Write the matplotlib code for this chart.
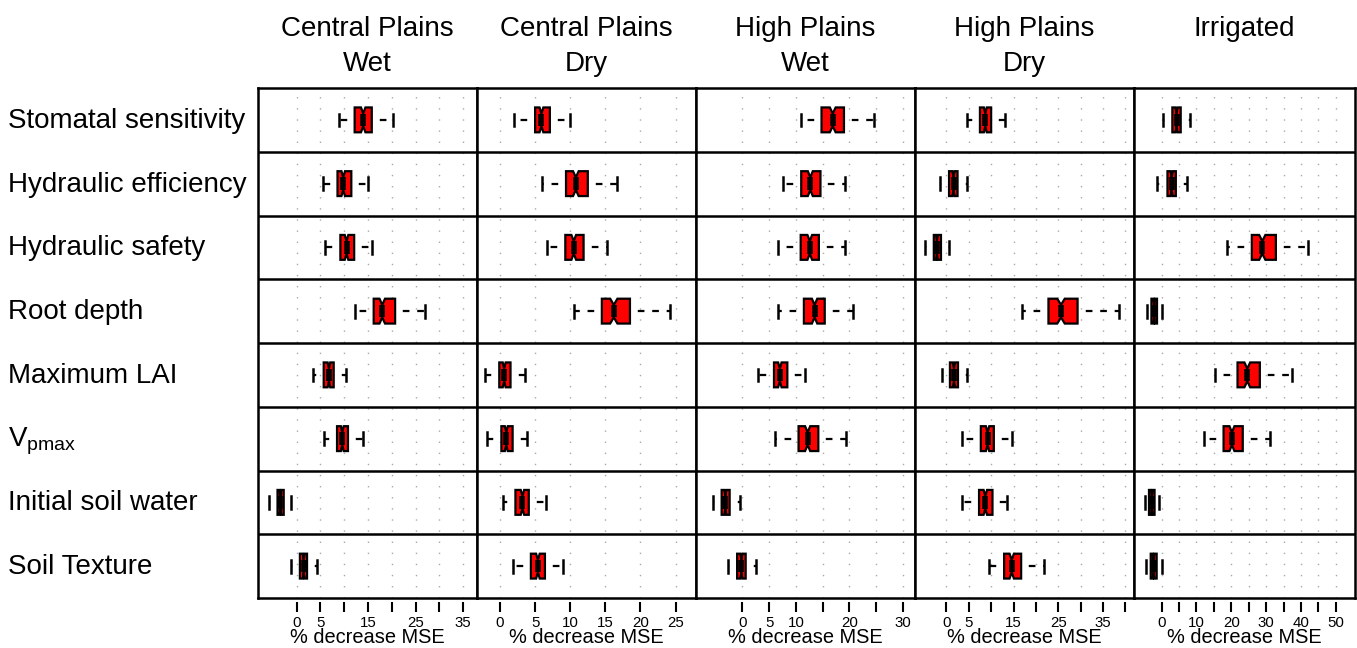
import matplotlib
matplotlib.use('Agg')
import matplotlib.pyplot as plt
import numpy as np

plt.rcParams['font.family'] = ['Liberation Sans', 'DejaVu Sans']

# ---------------- data ----------------
variables = ["Stomatal sensitivity", "Hydraulic efficiency", "Hydraulic safety",
             "Root depth", "Maximum LAI", r"$\mathregular{V_{pmax}}$",
             "Initial soil water", "Soil Texture"]

panel_titles = [("Central Plains", "Wet"), ("Central Plains", "Dry"),
                ("High Plains", "Wet"), ("High Plains", "Dry"), ("Irrigated", "")]

cp_wet_lo  = [8.9, 5.6, 5.9, 12.2, 3.5, 5.7, -5.8, -1.2]
cp_wet_q1  = [12.2, 8.6, 9.2, 16.2, 5.7, 8.5, -4.0, 0.7]
cp_wet_med = [14.0, 9.8, 10.5, 18.0, 6.8, 9.6, -3.4, 1.5]
cp_wet_q3  = [15.8, 11.5, 12.1, 20.7, 7.8, 10.8, -2.7, 2.2]
cp_wet_hi  = [20.3, 14.9, 15.8, 27.0, 10.4, 14.0, -1.1, 4.2]

cp_dry_lo  = [2.0, 6.0, 6.7, 10.5, -2.1, -1.9, 0.5, 1.9]
cp_dry_q1  = [5.0, 9.4, 9.3, 14.5, -0.1, 0.2, 2.2, 4.4]
cp_dry_med = [5.9, 10.8, 10.5, 16.2, 0.6, 0.9, 3.2, 5.4]
cp_dry_q3  = [7.1, 12.5, 11.9, 18.5, 1.5, 1.8, 4.1, 6.4]
cp_dry_hi  = [10.0, 16.7, 15.2, 24.2, 3.6, 3.9, 6.6, 9.0]

hp_wet_lo  = [10.9, 7.5, 6.6, 6.7, 2.9, 6.0, -5.5, -2.7]
hp_wet_q1  = [14.8, 11.0, 10.9, 11.5, 5.9, 10.5, -3.9, -1.0]
hp_wet_med = [16.9, 12.7, 12.6, 13.5, 7.0, 12.2, -3.2, -0.2]
hp_wet_q3  = [19.0, 14.6, 14.3, 15.4, 8.4, 14.2, -2.4, 0.6]
hp_wet_hi  = [24.6, 19.2, 19.2, 20.6, 11.7, 19.3, -0.4, 2.5]

hp_dry_lo  = [4.7, -1.4, -4.8, 17.0, -0.9, 3.6, 3.4, 9.5]
hp_dry_q1  = [7.5, 0.6, -2.8, 22.8, 0.8, 7.7, 7.3, 12.9]
hp_dry_med = [8.7, 1.6, -2.1, 25.6, 1.7, 9.2, 8.7, 14.6]
hp_dry_q3  = [10.0, 2.5, -1.2, 29.3, 2.6, 10.6, 10.3, 16.7]
hp_dry_hi  = [13.1, 4.7, 0.6, 38.6, 4.7, 14.7, 13.5, 21.9]

irr_lo  = [0.3, -1.3, 18.9, -4.3, 15.3, 12.2, -4.8, -4.5]
irr_q1  = [3.1, 1.7, 25.9, -2.9, 21.8, 17.8, -3.6, -3.1]
irr_med = [4.3, 2.9, 28.9, -2.1, 24.6, 20.2, -2.8, -2.3]
irr_q3  = [5.5, 4.1, 32.8, -1.3, 28.2, 23.3, -2.0, -1.4]
irr_hi  = [8.1, 7.2, 42.0, 0.2, 37.4, 31.1, -0.7, 0.2]

n_obs = 150  # sample size used for notch width (1.58*IQR/sqrt(n))

xlims = [(-8.1, 37.9), (-3.27, 27.9), (-8.7, 32.3), (-7.0, 41.9), (-7.9, 55.5)]
xticks = [[0, 5, 10, 15, 20, 25, 30, 35],
          [0, 5, 10, 15, 20, 25],
          [0, 5, 10, 15, 20, 25, 30],
          [0, 5, 10, 15, 20, 25, 30, 35, 40],
          [0, 5, 10, 15, 20, 25, 30, 35, 40, 45, 50]]
xticklabels = [["0", "5", "", "15", "", "25", "", "35"],
               ["0", "5", "10", "15", "20", "25"],
               ["0", "5", "10", "", "20", "", "30"],
               ["0", "5", "", "15", "", "25", "", "35", ""],
               ["0", "", "10", "", "20", "", "30", "", "40", "", "50"]]
x_label = "% decrease MSE"

panels = [
    (cp_wet_lo, cp_wet_q1, cp_wet_med, cp_wet_q3, cp_wet_hi),
    (cp_dry_lo, cp_dry_q1, cp_dry_med, cp_dry_q3, cp_dry_hi),
    (hp_wet_lo, hp_wet_q1, hp_wet_med, hp_wet_q3, hp_wet_hi),
    (hp_dry_lo, hp_dry_q1, hp_dry_med, hp_dry_q3, hp_dry_hi),
    (irr_lo, irr_q1, irr_med, irr_q3, irr_hi),
]

# ---------------- layout ----------------
W, H = 1357, 648
fig = plt.figure(figsize=(W / 100, H / 100), dpi=100)

col_edges = [258, 477, 696, 915, 1134, 1355]
top_px, bot_px = 88, 598
nrow = len(variables)

for c, (lo, q1, med, q3, hi) in enumerate(panels):
    x0, x1 = col_edges[c], col_edges[c + 1]
    ax = fig.add_axes([x0 / W, 1 - bot_px / H, (x1 - x0) / W, (bot_px - top_px) / H])
    stats = []
    for i in range(nrow):
        iqr = q3[i] - q1[i]
        half = 1.58 * iqr / np.sqrt(n_obs)
        stats.append(dict(med=med[i], q1=q1[i], q3=q3[i], whislo=lo[i], whishi=hi[i],
                          cilo=med[i] - half, cihi=med[i] + half, fliers=[]))
    # grid
    for t in xticks[c]:
        ax.axvline(t, color='#A8A8A8', lw=1.0, ls=(0, (1, 7)), zorder=0)
    ax.bxp(stats, positions=np.arange(1, nrow + 1), widths=0.39,
           capwidths=0.2,
           orientation='horizontal', shownotches=True, patch_artist=True,
           showfliers=False, manage_ticks=False,
           boxprops=dict(facecolor='#FF0000', edgecolor='black', linewidth=1.6),
           whiskerprops=dict(color='black', linewidth=1.6, linestyle=(3, (3, 3.5))),
           capprops=dict(color='black', linewidth=1.8),
           medianprops=dict(color='black', linewidth=4.0, solid_capstyle='butt'))
    ax.set_xlim(*xlims[c])
    ax.set_ylim(nrow + 0.5, 0.5)
    for k in range(1, nrow):
        ax.axhline(k + 0.5, color='black', lw=1.8, zorder=5)
    ax.axhline(nrow + 0.5, color='black', lw=1.8, zorder=5, clip_on=False)
    ax.set_yticks([])
    for s in ['left', 'right', 'top']:
        ax.spines[s].set_linewidth(1.8)
    ax.spines['bottom'].set_position(('outward', 3))
    ax.spines['bottom'].set_visible(False)
    ax.set_xticks(xticks[c])
    ax.set_xticklabels(xticklabels[c])
    ax.tick_params(axis='x', length=7, width=1.5, labelsize=10.8, pad=3)

    cx = (x0 + x1) / 2
    fig.text(cx / W, 1 - 643 / H, x_label, ha='center', va='baseline', fontsize=14.4)
    t1, t2 = panel_titles[c]
    fig.text(cx / W, 1 - 36 / H, t1, ha='center', va='baseline', fontsize=20)
    if t2:
        fig.text(cx / W, 1 - 71 / H, t2, ha='center', va='baseline', fontsize=20)

row_h = (bot_px - top_px) / nrow
for i, name in enumerate(variables):
    yc = top_px + row_h * (i + 0.5)
    fig.text(8 / W, 1 - (yc + 8) / H, name, ha='left', va='baseline', fontsize=20)

fig.savefig('out.png', dpi=100)
